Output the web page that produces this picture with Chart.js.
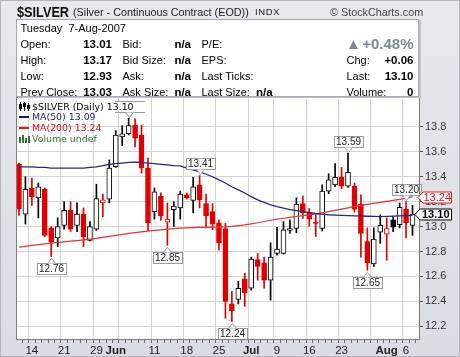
<!DOCTYPE html>
<html>
<head>
<meta charset="utf-8">
<script src="https://cdn.jsdelivr.net/npm/chart.js@4.4.1/dist/chart.umd.min.js"></script>
<style>
html,body{margin:0;padding:0}
body{width:460px;height:357px;position:relative;overflow:hidden;background:linear-gradient(180deg,#e7e9ed 0%,#d9dce2 100%);font-family:"Liberation Sans",Arial,sans-serif;color:#000}
#outline{position:absolute;left:0;top:0;width:458px;height:355px;border:1px solid #b2b6be}
canvas{position:absolute;left:0;top:0}
.a{position:absolute;white-space:nowrap;line-height:14px;font-size:11px;z-index:3}
.b{font-weight:bold;font-size:11.5px}
#info{position:absolute;left:16px;top:19px;width:401px;height:76px;background:#fff;border:1px solid #a3aab5;box-shadow:2px 1px 0 #c0c4cb;z-index:2}
#legend{position:absolute;left:19px;top:101.6px;font-family:"DejaVu Sans",sans-serif;font-size:9.4px;line-height:10.8px;z-index:5}
#legend div{white-space:nowrap;height:10.8px}
#legend .t{background:#fff;display:inline-block;height:10.8px;padding-right:14px}
.ic{display:inline-block;width:11px;height:9px;position:relative;vertical-align:-1px;margin-right:2px}
.ic i{position:absolute;display:block}
</style>
</head>
<body>
<div id="outline"></div>
<canvas id="c" width="460" height="357"></canvas>
<div id="info"></div>
<div id="legend"></div>
<script>
// ---------- data ----------
const dates = ['05-10','05-11','05-14','05-15','05-16','05-17','05-18','05-21','05-22','05-23','05-24','05-25','05-29','05-30','05-31','06-01','06-04','06-05','06-06','06-07','06-08','06-11','06-12','06-13','06-14','06-15','06-18','06-19','06-20','06-21','06-22','06-25','06-26','06-27','06-28','06-29','07-02','07-03','07-05','07-06','07-09','07-10','07-11','07-12','07-13','07-16','07-17','07-18','07-19','07-20','07-23','07-24','07-25','07-26','07-27','07-30','07-31','08-01','08-02','08-03','08-06','08-07'];
const open  = [13.50,13.10,13.31,13.23,13.30,12.99,12.91,13.01,13.13,13.01, 13.10,12.89,12.98,13.19,13.22,13.48,13.72,13.745,13.815,13.735, 13.47,13.12,13.245,13.035,13.135,13.15,13.255,13.21,13.335,13.185, 13.12,13.03,12.985,12.38,12.415,12.58,12.505,12.735,12.71,12.57, 12.785,12.785,12.97,12.985,13.185,13.11,13.035,12.985,13.285,13.335, 13.395,13.325,13.325,13.18,12.88,12.70,12.955,12.94,13.055,13.015, 13.14,13.01];
const high  = [13.51,13.40,13.39,13.35,13.31,13.00,13.07,13.20,13.20,13.19, 13.15,13.04,13.34,13.26,13.535,13.77,13.81,13.87,13.865,13.815, 13.55,13.31,13.27,13.19,13.20,13.285,13.27,13.395,13.41,13.26, 13.185,13.055,13.025,12.48,12.56,12.625,12.755,12.785,12.755,12.87, 12.995,13.04,13.055,13.23,13.245,13.145,13.095,13.335,13.425,13.505, 13.475,13.59,13.35,13.255,12.99,12.99,13.095,13.07,13.08,13.19, 13.20,13.17];
const low   = [13.09,13.02,13.17,13.07,12.92,12.76,12.84,12.98,12.96,12.96, 12.84,12.885,12.97,13.08,13.19,13.475,13.65,13.735,13.64,13.43, 12.97,13.06,13.05,12.85,13.00,13.06,13.22,13.11,13.15,12.99, 12.975,12.81,12.265,12.24,12.38,12.36,12.49,12.57,12.505,12.41, 12.77,12.78,12.945,12.95,13.065,13.005,12.92,12.965,13.265,13.32, 13.305,13.315,13.115,12.755,12.65,12.68,12.865,12.73,12.96,12.99, 12.91,12.93];
const close = [13.14,13.30,13.24,13.32,12.93,12.88,13.00,13.13,12.98,13.10, 12.92,13.00,13.225,13.215,13.47,13.735,13.745,13.81,13.71,13.47, 13.03,13.28,13.085,13.06,13.165,13.26,13.23,13.32,13.215,13.085, 13.02,12.87,12.40,12.325,12.505,12.47,12.74,12.68,12.57,12.755, 12.82,12.975,12.985,13.18,13.11,13.06,13.025,13.285,13.375,13.395, 13.325,13.435,13.14,12.945,12.71,12.90,13.01,12.985,12.995,13.155, 13.03,13.10];
const ma50  = [13.48,13.48,13.48,13.475,13.475,13.47,13.47,13.47,13.47,13.47, 13.47,13.475,13.48,13.49,13.50,13.505,13.51,13.515,13.517,13.515, 13.51,13.505,13.50,13.495,13.49,13.487,13.47,13.455,13.44,13.42, 13.40,13.375,13.35,13.32,13.295,13.27,13.24,13.215,13.195,13.175, 13.16,13.148,13.136,13.128,13.12,13.112,13.105,13.10,13.095,13.092, 13.09,13.088,13.086,13.085,13.083,13.082,13.08,13.082,13.084,13.086, 13.088,13.09];
const ma200 = [12.835,12.842,12.849,12.856,12.862,12.868,12.873,12.878,12.883,12.888, 12.893,12.899,12.906,12.914,12.922,12.93,12.938,12.945,12.952,12.958, 12.964,12.969,12.974,12.979,12.983,12.987,12.99,12.992,12.993,12.994, 12.995,12.996,12.998,13.002,13.008,13.014,13.022,13.031,13.041,13.051, 13.06,13.067,13.074,13.081,13.088,13.094,13.102,13.11,13.12,13.13, 13.14,13.15,13.16,13.17,13.178,13.186,13.194,13.202,13.21,13.218, 13.228,13.24];
const gridDates = ['05-14','05-21','05-29','06-04','06-11','06-18','06-25','07-02','07-09','07-16','07-23','07-30','08-06'];
const tickDates  = ['05-14','05-21','05-29','06-01','06-11','06-18','06-25','07-02','07-09','07-16','07-23','08-01','08-06'];
const tickLabels = ['14','21','29','Jun','11','18','25','Jul','9','16','23','Aug','6'];
const monthLabels = ['Jun','Jul','Aug'];
const yTicks = [12.2,12.4,12.6,12.8,13.0,13.2,13.4,13.6,13.8];
const highMarks = ['06-05','06-20','07-24','08-06'];
const lowMarks  = ['05-17','06-13','06-27','07-27'];
const infoDate = 'Tuesday\u00a0\u00a07-Aug-2007';
const infoLabels1 = ['Open:','High:','Low:','Prev Close:'];
const infoValues1 = ['13.01','13.17','12.93','13.03'];
const infoLabels2 = ['Bid:','Bid Size:','Ask:','Ask Size:'];
const infoValues2 = ['n/a','n/a','n/a','n/a'];
const infoLabels3 = ['P/E:','EPS:','Last Ticks:','Last Size:'];
const infoLabels4 = ['Chg:','Last:','Volume:'];
const infoValues4 = ['+0.06','13.10','0'];
const pctChange = '+0.48%';

// ---------- header & info (HTML text) ----------
function put(text, x, cy, cls, right, style){
  const s = document.createElement('span');
  s.className = 'a ' + (cls || '');
  s.textContent = text;
  s.style.top = (cy - 7) + 'px';
  if (right) s.style.right = (460 - x) + 'px'; else s.style.left = x + 'px';
  if (style) Object.assign(s.style, style);
  document.body.appendChild(s);
  return s;
}
put('$SILVER', 17, 11.5, '', false, {fontWeight:'bold', fontSize:'15.5px', transform:'scaleX(0.82)', transformOrigin:'left center', color:'#111'});
put('(Silver - Continuous Contract (EOD))', 73, 12, '', false, {fontSize:'10.8px', color:'#222'});
put('INDX', 255, 12, '', false, {fontSize:'9.5px', letterSpacing:'0.6px', color:'#222'});
put('\u00a9 StockCharts.com', 330, 12, '', false, {fontSize:'10.8px', color:'#444'});
put(infoDate, 20.5, 27.5);
const rowY = [44, 60, 76, 91.7];
infoLabels1.forEach((t,i)=>put(t, 20.5, rowY[i]));
infoValues1.forEach((t,i)=>put(t, 112, rowY[i], 'b', true));
infoLabels2.forEach((t,i)=>put(t, 122.5, rowY[i]));
infoValues2.forEach((t,i)=>put(t, 191, rowY[i], 'b', true));
infoLabels3.forEach((t,i)=>put(t, 201.5, rowY[i]));
put('n/a', 256, rowY[3], 'b');
infoLabels4.forEach((t,i)=>put(t, 346.5, rowY[i+1]));
infoValues4.forEach((t,i)=>put(t, 413.5, rowY[i+1], 'b', true));
put('\u25B2', 346, 43.5, '', false, {fontSize:'15px', color:'#7d8894'});
put(pctChange, 413.5, 43.5, '', true, {fontSize:'15px', fontWeight:'bold', color:'#7d8894'});

// ---------- legend ----------
const N = dates.length;
const lg = document.getElementById('legend');
lg.innerHTML =
  '<div><span class="t"><span class="ic"><i style="left:1px;top:0;width:1px;height:9px;background:#000"></i><i style="left:0;top:2px;width:3px;height:5px;background:#000"></i><i style="left:5px;top:0;width:1px;height:9px;background:#000"></i><i style="left:4px;top:1px;width:3px;height:4px;background:#000"></i><i style="left:9px;top:1px;width:1px;height:8px;background:#000"></i><i style="left:8px;top:3px;width:3px;height:4px;background:#000"></i></span>$SILVER (Daily) ' + close[N-1].toFixed(2) + '</span></div>' +
  '<div style="color:#1e1e7a"><span class="ic"><i style="left:0;top:4px;width:10px;height:2px;background:#1e1e7a"></i></span>MA(50) ' + ma50[N-1].toFixed(2) + '</div>' +
  '<div style="color:#d81010"><span class="ic"><i style="left:0;top:4px;width:10px;height:2px;background:#e01818"></i></span>MA(200) ' + ma200[N-1].toFixed(2) + '</div>' +
  '<div style="color:#2f7a2f"><span class="ic"><i style="left:0;top:3px;width:2px;height:6px;background:#2f7a2f"></i><i style="left:3px;top:1px;width:2px;height:8px;background:#2f7a2f"></i><i style="left:6px;top:4px;width:2px;height:5px;background:#2f7a2f"></i><i style="left:9px;top:2px;width:2px;height:7px;background:#2f7a2f"></i></span>Volume undef</div>';

// ---------- chart ----------
const RED = '#e00000', BLACK = '#000000';
const idx = dates.map((d,i)=>i);
const col = idx.map(i => close[i] < (i>0 ? close[i-1] : open[i]) ? RED : BLACK);
const fill = idx.map(i => close[i] >= open[i] ? '#ffffff' : col[i]);
const gridSet = new Set(gridDates.map(d => dates.indexOf(d)));
const tickMap = {};
tickDates.forEach((d,k)=>{ tickMap[dates.indexOf(d)] = tickLabels[k]; });

function drawMark(ctx, x, yTip, dir, text){
  ctx.font = '10px "Liberation Sans", Arial, sans-serif';
  const w = Math.round(ctx.measureText(text).width) + 4;
  const h = 11, ch = 5;
  x = Math.round(x) + 0.5;
  yTip = Math.round(yTip) + 0.5;
  const edge = yTip + dir*ch;
  const top = dir < 0 ? edge - h : edge;
  const left = Math.round(x - w/2) + 0.5;
  ctx.lineWidth = 1;
  ctx.strokeStyle = '#9a9a9a';
  ctx.fillStyle = '#ffffff';
  ctx.fillRect(left, top, w, h);
  ctx.strokeRect(left, top, w, h);
  ctx.beginPath(); ctx.moveTo(x-4, edge); ctx.lineTo(x, yTip); ctx.lineTo(x+4, edge); ctx.closePath(); ctx.fill();
  ctx.beginPath(); ctx.moveTo(x-4, edge); ctx.lineTo(x, yTip); ctx.lineTo(x+4, edge); ctx.stroke();
  ctx.fillStyle = '#222';
  ctx.textAlign = 'center'; ctx.textBaseline = 'middle';
  ctx.fillText(text, x, top + h/2 + 0.5);
}
function tag(ctx, x0, yc, text, stroke, color, weight){
  const yy = Math.round(yc) + 0.5, x1 = 451.5, h = 5.5;
  ctx.beginPath();
  ctx.moveTo(x0, yy); ctx.lineTo(x0+5, yy-h); ctx.lineTo(x1, yy-h); ctx.lineTo(x1, yy+h); ctx.lineTo(x0+5, yy+h); ctx.closePath();
  ctx.fillStyle = '#fff'; ctx.fill();
  ctx.strokeStyle = stroke; ctx.lineWidth = 1; ctx.stroke();
  ctx.font = weight + ' 11px "Liberation Sans", Arial, sans-serif';
  ctx.fillStyle = color; ctx.textAlign = 'center'; ctx.textBaseline = 'middle';
  ctx.fillText(text, (x0 + 5 + x1)/2, yy + 0.5);
}
const plotBg = {
  id:'plotBg',
  beforeDraw(chart){
    const {ctx, chartArea:a} = chart;
    ctx.save(); ctx.fillStyle = '#ffffff';
    ctx.fillRect(a.left, a.top, a.right-a.left, a.bottom-a.top);
    ctx.restore();
  }
};
const marks = {
  id:'marks',
  afterDatasetsDraw(chart){
    const {ctx, scales:{x, y}} = chart;
    ctx.save();
    highMarks.forEach(d => { const i = dates.indexOf(d); drawMark(ctx, x.getPixelForValue(i), y.getPixelForValue(high[i]) - 1.5, -1, high[i].toFixed(2)); });
    lowMarks.forEach(d => { const i = dates.indexOf(d); drawMark(ctx, x.getPixelForValue(i), y.getPixelForValue(low[i]) + 1.5, 1, low[i].toFixed(2)); });
    ctx.restore();
  }
};
const frame = {
  id:'frame',
  afterDraw(chart){
    const {ctx, chartArea:a, scales:{y}} = chart;
    ctx.save();
    ctx.strokeStyle = '#7c7c7c'; ctx.lineWidth = 1;
    ctx.strokeRect(a.left + 0.5, a.top + 0.5, a.right - a.left - 1, a.bottom - a.top - 1);
    tag(ctx, a.right - 2, y.getPixelForValue(ma200[N-1]), ma200[N-1].toFixed(2), '#e01818', '#e01818', 'normal');
    tag(ctx, a.right - 5, y.getPixelForValue(close[N-1]), close[N-1].toFixed(2), '#000', '#000', 'bold');
    ctx.restore();
  }
};

new Chart(document.getElementById('c'), {
  type: 'bar',
  data: {
    datasets: [
      { type:'line', data: idx.map(i=>({x:i, y:ma50[i]})), borderColor:'#262684', borderWidth:1.3, pointRadius:0, tension:0, order:0 },
      { type:'line', data: idx.map(i=>({x:i, y:ma200[i]})), borderColor:'#e23434', borderWidth:1.2, pointRadius:0, tension:0, order:0 },
      { type:'bar', data: idx.map(i=>({x:i, y:[open[i], close[i]]})), backgroundColor: fill, borderColor: col, borderWidth:1, borderSkipped:false, barThickness:5, grouped:false, order:1 },
      { type:'bar', data: idx.map(i=>({x:i, y:[low[i], high[i]]})), backgroundColor: col, borderWidth:0, barThickness:1, grouped:false, order:2 }
    ]
  },
  options: {
    responsive:false, animation:false, devicePixelRatio:1,
    layout: { padding: { left:16, top:97, right:0, bottom:0 } },
    plugins: { legend:{display:false}, tooltip:{enabled:false} },
    scales: {
      x: {
        type:'linear', min:-0.46, max:62.16, offset:false, bounds:'data',
        afterBuildTicks: s => { s.ticks = idx.map(i=>({value:i})); },
        afterFit: s => { s.height = 17; },
        border: { display:false },
        grid: {
          color: c => gridSet.has(c.index) ? '#d4d4d4' : 'rgba(0,0,0,0)',
          tickColor:'#6a6a6a', tickLength:3, drawTicks:true
        },
        ticks: {
          autoSkip:false, maxRotation:0, minRotation:0, padding:1, color:'#222',
          callback: (v) => tickMap[v] !== undefined ? tickMap[v] : '',
          font: c => ({ family:'"Liberation Sans", Arial, sans-serif', size:11.5, weight: monthLabels.includes(tickMap[c.index]) ? 'bold' : 'normal' })
        }
      },
      y: {
        type:'linear', position:'right', min:12.09, max:14.04, bounds:'data',
        afterBuildTicks: s => { s.ticks = yTicks.map(v=>({value:v})); },
        afterFit: s => { s.width = 40; },
        border: { display:false },
        grid: { color:'#d4d4d4', tickColor:'#555', tickLength:3 },
        ticks: { padding:2, color:'#333', font:{ family:'"Liberation Sans", Arial, sans-serif', size:11 }, callback: v => Number(v).toFixed(1) }
      }
    }
  },
  plugins: [plotBg, marks, frame]
});
</script>
</body>
</html>
